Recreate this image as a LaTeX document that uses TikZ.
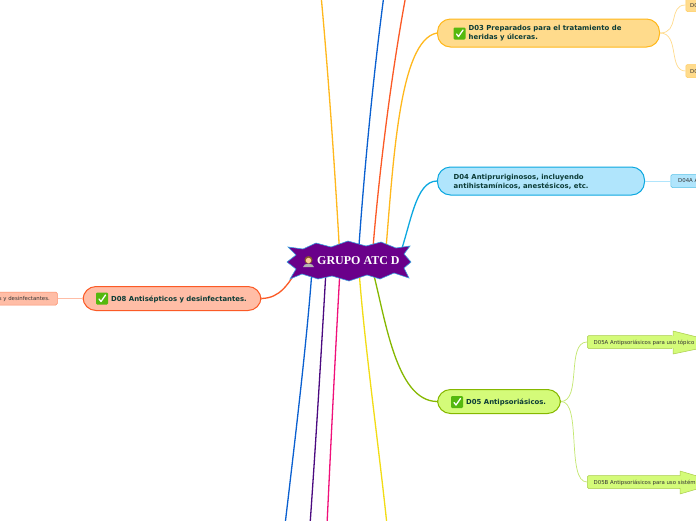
\documentclass[tikz,border=0pt]{standalone}
\usepackage{fontspec}
\setmainfont{DejaVu Sans}
\newfontfamily\titlefont{Liberation Serif}
\definecolor{cOr}{HTML}{FFB81C}\definecolor{fOr}{HTML}{FFDB8C}
\definecolor{cBl}{HTML}{0CA8E0}\definecolor{fBl}{HTML}{B0E5FC}
\definecolor{cGr}{HTML}{86B800}\definecolor{fGr}{HTML}{D4FB79}
\definecolor{cRe}{HTML}{FB5A26}\definecolor{fRe}{HTML}{FFBDA6}
\definecolor{cPu}{HTML}{6A008A}
\definecolor{txt}{HTML}{0B3B36}
\definecolor{cB2}{HTML}{0A60D0}
\definecolor{cVi}{HTML}{4B0A80}
\definecolor{cPk}{HTML}{F0107A}
\definecolor{cYe}{HTML}{F2DC14}
\definecolor{cSt}{HTML}{3A9FE0}
\definecolor{cTk}{HTML}{55B80E}
\tikzset{
 x=1pt,y=-1pt,
 topic/.style={rounded corners=13pt,line width=1pt,inner sep=0pt,minimum height=28pt,anchor=west},
 sub/.style={rounded corners=1.5pt,line width=.5pt,inner sep=0pt,minimum height=13pt,anchor=west},
 branch/.style={line width=1.3pt},
 twig/.style={line width=.7pt},
 tlabel/.style={anchor=west,text=txt,font=\fontsize{6.9}{9.2}\selectfont\bfseries,align=left,inner sep=0pt},
 slabel/.style={text=black!80,font=\fontsize{5.4}{6}\selectfont,inner sep=0pt},
 tickbox/.style={rounded corners=1.2pt,fill=cTk,minimum size=12pt,inner sep=0pt},
 tickmark/.style={white,line width=1.3pt,line cap=round,line join=round},
}
\newcommand{\tickat}[2]{%
 \node[tickbox] (#2) at (#1) {};
 \draw[tickmark] ($(#1)+(-3,0.5)$) -- ($(#1)+(-1,3)$) -- ($(#1)+(3.5,-3.5)$);}
\usetikzlibrary{calc}
\begin{document}
\begin{tikzpicture}
\useasboundingbox (0,0) rectangle (696,520);
\clip (0,0) rectangle (696,520);
\fill[white] (0,0) rectangle (696,520);
\coordinate (t1) at (321,-5);
\coordinate (t2) at (384,-5);
\coordinate (t3) at (406,-5);
\coordinate (b1) at (285,525);
\coordinate (b2) at (310,525);
\coordinate (b3) at (327,525);
\coordinate (b4) at (387,525);
\coordinate (s1) at (340,260);
\coordinate (s2) at (358,260);
\coordinate (s3) at (372,260);
\coordinate (s4) at (385,260);
\coordinate (s5) at (398,260);
\coordinate (s6) at (372,268);
\coordinate (s7) at (312,270);
\coordinate (s8) at (326,270);
\coordinate (s9) at (340,270);
\coordinate (s10) at (359,270);
\coordinate (s11) at (300,265);
% branches behind
\draw[branch,cOr] (s1) .. controls (335,170) and (328,70) .. (t1);
\draw[branch,cB2] (s2) .. controls (364,170) and (374,70) .. (t2);
\draw[branch,cRe] (s3) .. controls (379,170) and (392,70) .. (t3);
\draw[branch,cB2] (s7) .. controls (307,340) and (295,440) .. (b1);
\draw[branch,cVi] (s8) .. controls (322,340) and (316,440) .. (b2);
\draw[branch,cPk] (s9) .. controls (336,340) and (331,440) .. (b3);
\draw[branch,cYe] (s10) .. controls (364,340) and (378,440) .. (b4);
% topics
\node[topic,draw=cOr,fill=fOr,minimum width=222pt] (d03) at (437,33) {};
\node[topic,draw=cBl,fill=fBl,minimum width=207pt] (d04) at (437,181) {};
\node[topic,draw=cGr,fill=fGr,minimum width=123pt,minimum height=24pt] (d05) at (437,401.5) {};
\node[topic,draw=cRe,fill=fRe,minimum width=178pt,minimum height=24pt] (d08) at (82.5,298.5) {};
% hub connectors
\draw[branch,cOr] (s4) .. controls (393,170) and (398,40) .. (d03.west);
\draw[branch,cBl] (s5) .. controls (411,225) and (415,181) .. (d04.west);
\draw[branch,cGr] (s6) .. controls (385,315) and (395,401) .. (d05.west);
\draw[branch,cRe] (s11) .. controls (288,285) and (280,298) .. (d08.east);
% subtopics
\node[sub,draw=cOr!70,fill=fOr,minimum width=30pt] (d03a) at (685.5,5) {};
\node[sub,draw=cOr!70,fill=fOr,minimum width=30pt] (d03b) at (685.5,71) {};
\node[sub,draw=cBl!70,fill=fBl,minimum width=40pt] (d04a) at (670.5,181) {};
\node[sub,draw=cGr!70,fill=fGr,minimum width=86pt] (d05a) at (587,342) {};
\node[sub,draw=cGr!70,fill=fGr,minimum width=94pt] (d05b) at (587,482) {};
\node[sub,draw=cRe!70,fill=fRe,minimum width=70pt] (d08a) at (-13,298.5) {};
\draw[fill=fGr,draw=cGr!70,line width=.5pt,line join=round] (673,336) -- (673,331) -- (697,337) -- (697,349) -- (673,354) -- (673,349) -- cycle;
\draw[fill=fGr,draw=cGr!70,line width=.5pt,line join=round] (680,476) -- (680,471) -- (697,476) -- (697,489) -- (680,494) -- (680,489) -- cycle;
\fill[fGr] (670,335.8) rectangle (675,348.2);
\fill[fGr] (677,475.8) rectangle (682,488.2);
\draw[twig,fOr] (d03.east) .. controls (680,33) and (668,5) .. (d03a.west);
\draw[twig,fOr] (d03.east) .. controls (680,33) and (668,71) .. (d03b.west);
\draw[twig,fBl] (d04.east) -- (d04a.west);
\draw[twig,fGr!92!black] (d05.east) .. controls (582,401) and (566,342) .. (d05a.west);
\draw[twig,fGr!92!black] (d05.east) .. controls (582,401) and (566,482) .. (d05b.west);
\draw[twig,fRe] (d08.west) -- (d08a.east);
% labels
\tickat{459.5,33.5}{k03}
\tickat{457,402}{k05}
\tickat{102,298.5}{k08}
\node[tlabel] (l03) at (468.5,33.5) {D03 Preparados para el tratamiento de\\heridas y úlceras.};
\node[tlabel] (l04) at (453.5,181.5) {D04 Antipruriginosos, incluyendo\\antihistamínicos, anestésicos, etc.};
\node[tlabel] (l05) at (466,402) {D05 Antipsoriásicos.};
\node[tlabel] (l08) at (111,299) {D08 Antisépticos y desinfectantes.};
\node[slabel,anchor=west] (l3a) at (690,5.5) {D03A};
\node[slabel,anchor=west] (l3b) at (690,71.5) {D03B};
\node[slabel,anchor=west] (l4a) at (678,181.5) {D04A Antipruriginosos};
\node[slabel,anchor=west] (l5a) at (593.5,342.5) {D05A Antipsoriásicos para uso tópico};
\node[slabel,anchor=west] (l5b) at (593.5,482.5) {D05B Antipsoriásicos para uso sistémico};
\node[slabel,anchor=east] (l8a) at (50,299) {D08A Antisépticos y desinfectantes.};
% central star
\draw[fill=cPu,draw=cSt,line width=.6pt,line join=miter] (288,247) -- (303,249) -- (316,243) -- (331,247) -- (348,241) -- (366,246) -- (381,242) -- (396,248) -- (410,246) -- (404,254) -- (411,262) -- (404,268) -- (409,278) -- (394,273) -- (380,279) -- (367,275) -- (349,281) -- (332,276) -- (318,279) -- (302,274) -- (290,279) -- (296,269) -- (287,262) -- (296,255) -- cycle;
\node[font=\titlefont\fontsize{12}{12}\selectfont\bfseries,text=white,inner sep=0pt,anchor=west] (hubl) at (317,260.5) {GRUPO ATC D};
% person icon
\fill[brown!70!black] (308.5,260) circle (4pt);
\fill[orange!40!white] (308.5,260.5) circle (2.7pt);
\fill[gray!60] (303,267) .. controls (303.5,262.5) and (313.5,262.5) .. (314,267) -- cycle;
\end{tikzpicture}
\end{document}
